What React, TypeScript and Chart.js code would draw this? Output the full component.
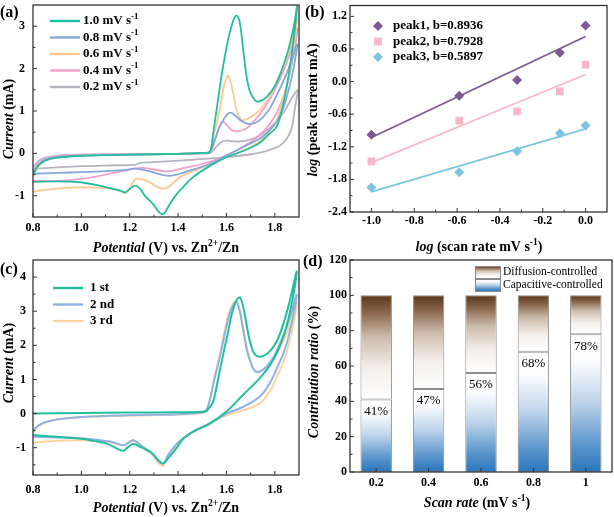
import { useEffect, useRef } from 'react';
import { Chart, registerables } from 'chart.js';
Chart.register(...registerables);

const SERIF = '"Liberation Serif", "Times New Roman", Times, serif';
Chart.defaults.font.family = SERIF;

// ---------------- Panel (a): CV at different scan rates ----------------
const A_LABELS = ['1.0', '0.8', '0.6', '0.4', '0.2'];
const A_10_E = [0.80, 0.82, 0.85, 0.90, 1.00, 1.20, 1.40, 1.50, 1.531, 1.545, 1.559, 1.573, 1.586, 1.607, 1.628, 1.642, 1.655, 1.669, 1.683, 1.697, 1.717, 1.731, 1.766, 1.807, 1.848, 1.876, 1.892,
  1.885, 1.87, 1.85, 1.83, 1.807, 1.77, 1.738, 1.68, 1.60, 1.53, 1.462, 1.42, 1.394, 1.365, 1.345, 1.335, 1.32, 1.30, 1.263, 1.24, 1.221, 1.20, 1.18, 1.16, 1.105, 1.05, 0.994, 0.90, 0.80];
const A_10_I = [-0.50, -0.30, -0.17, -0.10, -0.06, -0.03, -0.01, 0.01, 0.03, 0.47, 1.02, 1.58, 2.05, 2.69, 3.13, 3.25, 3.09, 2.45, 1.82, 1.46, 1.26, 1.22, 1.33, 1.66, 2.29, 2.93, 3.47,
  3.05, 2.35, 1.6, 1.05, 0.63, 0.42, 0.25, 0.08, -0.09, -0.3, -0.56, -0.8, -0.96, -1.2, -1.40, -1.44, -1.38, -1.22, -1.0, -0.82, -0.76, -0.84, -0.92, -0.88, -0.80, -0.73, -0.68, -0.66, -0.67];
const A_08_E = [0.80, 0.82, 0.85, 0.90, 1.00, 1.20, 1.40, 1.50, 1.531, 1.55, 1.57, 1.59, 1.605, 1.617, 1.635, 1.66, 1.697, 1.73, 1.77, 1.81, 1.85, 1.892,
  1.885, 1.87, 1.85, 1.83, 1.80, 1.75, 1.67, 1.60, 1.531, 1.45, 1.407, 1.366, 1.33, 1.28, 1.25, 1.22, 1.18, 1.10, 1.00, 0.90, 0.80];
const A_08_I = [-0.48, -0.28, -0.15, -0.08, -0.05, -0.03, -0.01, 0.01, 0.04, 0.3, 0.6, 0.82, 0.93, 0.96, 0.9, 0.77, 0.69, 0.75, 0.98, 1.4, 1.9, 2.57,
  2.25, 1.8, 1.35, 1.0, 0.68, 0.4, 0.15, -0.05, -0.25, -0.4, -0.48, -0.53, -0.5, -0.42, -0.38, -0.36, -0.39, -0.42, -0.44, -0.46, -0.48];
const A_06_E = [0.80, 0.82, 0.85, 0.90, 1.00, 1.20, 1.40, 1.50, 1.531, 1.545, 1.566, 1.579, 1.593, 1.607, 1.628, 1.642, 1.662, 1.68, 1.70, 1.738, 1.78, 1.82, 1.86, 1.892,
  1.885, 1.87, 1.85, 1.82, 1.80, 1.75, 1.70, 1.62, 1.55, 1.48, 1.407, 1.38, 1.345, 1.31, 1.283, 1.255, 1.226, 1.21, 1.187, 1.16, 1.10, 1.00, 0.90, 0.80];
const A_06_I = [-0.55, -0.33, -0.17, -0.09, -0.05, -0.03, -0.01, 0.01, 0.04, 0.4, 0.86, 1.26, 1.66, 1.83, 1.42, 1.02, 0.79, 0.8, 0.86, 1.02, 1.35, 1.85, 2.45, 3.17,
  2.85, 2.2, 1.6, 1.0, 0.7, 0.35, 0.15, -0.05, -0.2, -0.38, -0.56, -0.7, -0.83, -0.78, -0.68, -0.62, -0.6, -0.72, -0.93, -0.88, -0.82, -0.80, -0.83, -0.9];
const A_04_E = [0.80, 0.82, 0.85, 0.90, 1.00, 1.20, 1.40, 1.50, 1.535, 1.555, 1.57, 1.584, 1.60, 1.62, 1.644, 1.68, 1.72, 1.76, 1.80, 1.85, 1.892,
  1.885, 1.87, 1.85, 1.82, 1.78, 1.72, 1.65, 1.58, 1.50, 1.42, 1.37, 1.34, 1.30, 1.25, 1.20, 1.10, 1.00, 0.90, 0.80];
const A_04_I = [-0.45, -0.26, -0.13, -0.06, -0.03, -0.02, -0.01, 0.01, 0.05, 0.35, 0.62, 0.75, 0.68, 0.56, 0.52, 0.58, 0.8, 1.1, 1.5, 2.15, 2.95,
  2.55, 2.1, 1.6, 1.1, 0.7, 0.35, 0.1, -0.1, -0.25, -0.35, -0.42, -0.42, -0.38, -0.34, -0.38, -0.5, -0.6, -0.65, -0.64];
const A_02_E = [0.80, 0.83, 0.88, 1.00, 1.30, 1.53, 1.55, 1.575, 1.60, 1.64, 1.68, 1.74, 1.80, 1.84, 1.87, 1.895,
  1.89, 1.88, 1.87, 1.85, 1.82, 1.76, 1.70, 1.60, 1.46, 1.35, 1.25, 1.22, 1.15, 1.00, 0.90, 0.80];
const A_02_I = [-0.32, -0.15, -0.07, -0.03, -0.01, 0.0, 0.1, 0.25, 0.3, 0.28, 0.3, 0.43, 0.72, 1.0, 1.3, 1.5,
  1.3, 0.95, 0.6, 0.35, 0.18, 0.05, -0.02, -0.09, -0.15, -0.19, -0.22, -0.27, -0.28, -0.30, -0.33, -0.36];
const A_X_TICKS = [0.8, 1.0, 1.2, 1.4, 1.6, 1.8];
const A_Y_TICKS = [-1, 0, 1, 2, 3];

// ---------------- Panel (b): log(i) vs log(v) ----------------
const B_LOG_V = [-1.0, -0.59, -0.32, -0.12, 0.0];
const B_PEAK1 = [-0.98, -0.26, 0.03, 0.53, 1.03];
const B_PEAK2 = [-1.47, -0.72, -0.55, -0.18, 0.31];
const B_PEAK3 = [-1.95, -1.67, -1.28, -0.95, -0.81];
const B_FIT_X = [-1.0, 0.0];
const B_FIT1 = [-1.03, 0.83];
const B_FIT2 = [-1.49, 0.13];
const B_FIT3 = [-2.03, -0.87];
const B_LABELS = ['peak1, b=0.8936', 'peak2, b=0.7928', 'peak3, b=0.5897'];
const B_X_TICKS = [-1.0, -0.8, -0.6, -0.4, -0.2, 0.0];
const B_Y_TICKS = [-2.4, -1.8, -1.2, -0.6, 0.0, 0.6, 1.2];

// ---------------- Panel (c): first three cycles ----------------
const C_LABELS = ['1 st', '2 nd', '3 rd'];
const C_1_E = [0.80, 1.00, 1.20, 1.40, 1.50, 1.518, 1.53, 1.545, 1.566, 1.586, 1.607, 1.621, 1.64, 1.655, 1.665, 1.676, 1.697, 1.715, 1.731, 1.755, 1.779, 1.81, 1.834, 1.86, 1.89,
  1.88, 1.86, 1.84, 1.81, 1.78, 1.738, 1.669, 1.60, 1.531, 1.462, 1.42, 1.393, 1.36, 1.338, 1.32, 1.29, 1.25, 1.214, 1.19, 1.173, 1.14, 1.105, 1.05, 1.00, 0.90, 0.80];
const C_1_I = [0.0, 0.02, 0.03, 0.04, 0.05, 0.08, 0.18, 0.35, 1.03, 1.72, 2.4, 2.89, 3.3, 3.40, 3.25, 2.89, 2.11, 1.75, 1.67, 1.7, 1.82, 2.15, 2.6, 3.25, 4.16,
  3.6, 2.9, 2.35, 1.8, 1.42, 1.04, 0.55, 0.06, -0.29, -0.53, -0.75, -1.02, -1.3, -1.46, -1.38, -1.15, -1.0, -0.89, -1.0, -1.09, -1.0, -0.88, -0.8, -0.74, -0.68, -0.63];
const C_23_E = [0.80, 0.82, 0.85, 0.90, 1.00, 1.20, 1.40, 1.50, 1.515, 1.53, 1.55, 1.575, 1.595, 1.615, 1.639, 1.655, 1.668, 1.685, 1.70, 1.72, 1.75, 1.79, 1.83, 1.86, 1.89,
  1.88, 1.86, 1.84, 1.81, 1.78, 1.738, 1.67, 1.60, 1.53, 1.45, 1.40, 1.36, 1.338, 1.32, 1.29, 1.25, 1.214, 1.19, 1.173, 1.12, 1.00, 0.90, 0.80];
const C_2_I = [-0.52, -0.36, -0.25, -0.17, -0.1, -0.05, -0.02, 0.03, 0.08, 0.35, 1.0, 1.72, 2.4, 2.95, 3.28, 3.0, 2.5, 1.85, 1.5, 1.23, 1.28, 1.6, 2.2, 2.75, 3.48,
  3.0, 2.35, 1.85, 1.35, 0.9, 0.5, 0.2, 0.0, -0.3, -0.58, -0.85, -1.2, -1.47, -1.4, -1.15, -0.95, -0.78, -0.88, -0.93, -0.82, -0.72, -0.7, -0.68];
const C_3_I = [-0.55, -0.38, -0.27, -0.18, -0.11, -0.06, -0.03, 0.02, 0.08, 0.38, 1.05, 1.8, 2.5, 3.05, 3.3, 3.05, 2.55, 1.9, 1.52, 1.25, 1.27, 1.55, 2.05, 2.55, 3.23,
  2.75, 2.1, 1.6, 1.1, 0.65, 0.3, 0.1, -0.05, -0.3, -0.58, -0.87, -1.25, -1.53, -1.45, -1.18, -0.97, -0.78, -0.88, -0.93, -0.85, -0.78, -0.8, -0.85];
const C_X_TICKS = [0.8, 1.0, 1.2, 1.4, 1.6, 1.8];
const C_Y_TICKS = [-1, 0, 1, 2, 3, 4];

// ---------------- Panel (d): contribution ratio ----------------
const D_RATES = ['0.2', '0.4', '0.6', '0.8', '1'];
const D_CAPACITIVE = [41, 47, 56, 68, 78];
const D_DIFFUSION = [59, 53, 44, 32, 22];
const D_Y_TICKS = [0, 20, 40, 60, 80, 100, 120];

// ---------------- colours ----------------
const TEAL = '#22bf9f';
const BLUE = '#85a9dc';
const ORANGE = '#fcc98f';
const PINK = '#f2a0cc';
const GRAY = '#b9b3c0';
const C_BLUE = '#90b2e2';
const C_ORANGE = '#fdd3a2';
const P1 = '#7b5b93';
const P2 = '#f8b8c8';
const P3 = '#7cc4e0';
const CAP_STOPS: [number, string][] = [[0, '#2a76bb'], [0.2, '#5d96cd'], [0.5, '#bcd3ea'], [0.8, '#fbfcfe'], [1, '#ffffff']];
const DIF_STOPS: [number, string][] = [[0, '#ffffff'], [0.3, '#f3efeb'], [0.6, '#cdbcac'], [0.85, '#866248'], [1, '#5a3719']];

// ---------------- helpers ----------------
type Part = { t: string; i?: boolean; sup?: boolean; n?: boolean };
const xy = (xs: number[], ys: number[]) => xs.map((x, k) => ({ x, y: ys[k] }));
const fontOf = (p: Part, size: number) =>
  `${p.i ? 'italic ' : ''}${p.n ? '' : 'bold '}${p.sup ? size * 0.68 : size}px ${SERIF}`;

function drawRich(ctx: CanvasRenderingContext2D, parts: Part[], x: number, y: number, size: number, align: 'left' | 'center' = 'left', rot = false) {
  ctx.save();
  ctx.translate(x, y);
  if (rot) ctx.rotate(-Math.PI / 2);
  let w = 0;
  for (const p of parts) { ctx.font = fontOf(p, size); w += ctx.measureText(p.t).width; }
  let cx = align === 'center' ? -w / 2 : 0;
  ctx.textBaseline = 'middle';
  ctx.textAlign = 'left';
  ctx.fillStyle = '#000';
  for (const p of parts) {
    ctx.font = fontOf(p, size);
    ctx.fillText(p.t, cx, p.sup ? -size * 0.33 : 0);
    cx += ctx.measureText(p.t).width;
  }
  ctx.restore();
}

const f1 = (v: any) => Number(v).toFixed(1);
const f0 = (v: any) => String(Math.round(Number(v)));

function linScale(min: number, max: number, ticks: number[], fmt: any, padding: number, axis: 'x' | 'y', fixed: number) {
  return {
    type: 'linear', min, max,
    grid: { display: false, drawTicks: false },
    border: { display: false },
    ticks: { padding, color: '#000', font: { family: SERIF, size: 12, weight: 'bold' }, callback: fmt },
    afterBuildTicks: (s: any) => { s.ticks = ticks.map((v) => ({ value: v })); },
    afterFit: (s: any) => {
      if (axis === 'x') s.height = fixed; else s.width = fixed;
      s.paddingLeft = 0; s.paddingRight = 0; s.paddingTop = 0; s.paddingBottom = 0;
    },
  };
}

function framePlugin(xMinor: boolean, yMinor: boolean) {
  return {
    id: 'frame',
    afterDraw(chart: any) {
      const { ctx, chartArea: a, scales } = chart;
      ctx.save();
      ctx.strokeStyle = '#333';
      ctx.lineWidth = 1;
      ctx.beginPath();
      const xs = scales.x, ys = scales.y;
      const xt: number[] = xs.ticks.map((_: any, k: number) => xs.getPixelForTick(k));
      const yt: number[] = ys.ticks.map((_: any, k: number) => ys.getPixelForTick(k));
      xt.forEach((p) => { ctx.moveTo(p, a.bottom); ctx.lineTo(p, a.bottom - 4); });
      yt.forEach((p) => { ctx.moveTo(a.left, p); ctx.lineTo(a.left + 4, p); });
      if (xMinor && xt.length > 1) {
        const st = xt[1] - xt[0];
        for (let k = -2; k < xt.length + 2; k++) {
          const p = xt[0] + st / 2 + k * st;
          if (p > a.left + 1 && p < a.right - 1) { ctx.moveTo(p, a.bottom); ctx.lineTo(p, a.bottom - 2.5); }
        }
      }
      if (yMinor && yt.length > 1) {
        const st = yt[1] - yt[0];
        for (let k = -2; k < yt.length + 2; k++) {
          const p = yt[0] + st / 2 + k * st;
          if (p > a.top + 1 && p < a.bottom - 1) { ctx.moveTo(a.left, p); ctx.lineTo(a.left + 2.5, p); }
        }
      }
      ctx.stroke();
      ctx.lineWidth = 1.3;
      ctx.strokeRect(a.left, a.top, a.right - a.left, a.bottom - a.top);
      ctx.restore();
    },
  };
}

const textPlugin = (draw: (ctx: CanvasRenderingContext2D, chart: any) => void) => ({
  id: 'texts',
  afterDraw(chart: any) { const ctx = chart.ctx; ctx.save(); draw(ctx, chart); ctx.restore(); },
});

const baseOptions = (padTop: number, padRight: number) => ({
  responsive: false,
  animation: false,
  devicePixelRatio: 1,
  layout: { padding: { top: padTop, right: padRight, left: 0, bottom: 0 } },
  plugins: { legend: { display: false }, tooltip: { enabled: false } },
});

const cvLine = (E: number[], I: number[], color: string, width: number) => ({
  data: xy(E, I), showLine: true, borderColor: color, backgroundColor: color,
  borderWidth: width, pointRadius: 0, tension: 0.35, fill: false,
});

// ---------------- chart configs ----------------
function configA(): any {
  const colors = [TEAL, BLUE, ORANGE, PINK, GRAY];
  const series = [[A_10_E, A_10_I], [A_08_E, A_08_I], [A_06_E, A_06_I], [A_04_E, A_04_I], [A_02_E, A_02_I]];
  return {
    type: 'scatter',
    data: { datasets: series.map((s, k) => cvLine(s[0], s[1], colors[k], 1.8)) },
    options: {
      ...baseOptions(5, 1),
      scales: {
        x: linScale(0.8, 1.9, A_X_TICKS, f1, 4, 'x', 255 - 217),
        y: linScale(-1.5, 3.5, A_Y_TICKS, f0, 8, 'y', 33),
      },
    },
    plugins: [framePlugin(true, true), textPlugin((ctx) => {
      drawRich(ctx, [{ t: '(a)' }], 0, 13, 16);
      drawRich(ctx, [{ t: 'Current', i: true }, { t: ' (mA)' }], 9, 119, 14, 'center', true);
      drawRich(ctx, [{ t: 'Potential', i: true }, { t: ' (V) vs. Zn' }, { t: '2+', sup: true }, { t: '/Zn' }], 166, 248, 14, 'center');
      A_LABELS.forEach((lab, k) => {
        const y = 21 + k * 16.5;
        ctx.strokeStyle = colors[k]; ctx.lineWidth = 2.4;
        ctx.beginPath(); ctx.moveTo(50, y); ctx.lineTo(80, y); ctx.stroke();
        drawRich(ctx, [{ t: `${lab} mV s` }, { t: '-1', sup: true }], 83, y, 13);
      });
    })],
  };
}

function configB(): any {
  const pts = [B_PEAK1, B_PEAK2, B_PEAK3];
  const fits = [B_FIT1, B_FIT2, B_FIT3];
  const colors = [P1, P2, P3];
  const styles = ['rectRot', 'rect', 'rectRot'];
  const radii = [5, 5.5, 5];
  const datasets: any[] = [];
  fits.forEach((f, k) => datasets.push({ data: xy(B_FIT_X, f), showLine: true, borderColor: colors[k], borderWidth: 1.8, pointRadius: 0, tension: 0 }));
  pts.forEach((p, k) => datasets.push({ data: xy(B_LOG_V, p), showLine: false, pointStyle: styles[k], pointRadius: radii[k], backgroundColor: colors[k], borderColor: colors[k], borderWidth: 0 }));
  return {
    type: 'scatter',
    data: { datasets },
    options: {
      ...baseOptions(5, 7),
      scales: {
        x: linScale(-1.1, 0.1, B_X_TICKS, f1, 2, 'x', 255 - 212),
        y: linScale(-2.4, 1.4, B_Y_TICKS, f1, 3, 'y', 50),
      },
    },
    plugins: [framePlugin(true, true), textPlugin((ctx) => {
      drawRich(ctx, [{ t: '(b)' }], 5, 13, 16);
      drawRich(ctx, [{ t: 'log', i: true }, { t: ' (peak current mA)' }], 13, 110, 14, 'center', true);
      drawRich(ctx, [{ t: 'log', i: true }, { t: ' (scan rate mV s' }, { t: '-1', sup: true }, { t: ')' }], 179, 247, 14, 'center');
      B_LABELS.forEach((lab, k) => {
        const y = 26 + k * 15.5, x = 78;
        ctx.fillStyle = colors[k];
        ctx.beginPath();
        if (styles[k] === 'rect') { ctx.rect(x - 4, y - 4, 8, 8); }
        else { ctx.moveTo(x, y - 5); ctx.lineTo(x + 5, y); ctx.lineTo(x, y + 5); ctx.lineTo(x - 5, y); ctx.closePath(); }
        ctx.fill();
        drawRich(ctx, [{ t: lab }], 93, y, 13);
      });
    })],
  };
}

function configC(): any {
  const colors = [TEAL, C_BLUE, C_ORANGE];
  const series = [[C_1_E, C_1_I], [C_23_E, C_2_I], [C_23_E, C_3_I]];
  return {
    type: 'scatter',
    data: { datasets: series.map((s, k) => cvLine(s[0], s[1], colors[k], 2)) },
    options: {
      ...baseOptions(5, 1),
      scales: {
        x: linScale(0.8, 1.9, C_X_TICKS, f1, 8, 'x', 262 - 220),
        y: linScale(-1.8, 4.5, C_Y_TICKS, f0, 7, 'y', 33),
      },
    },
    plugins: [framePlugin(true, true), textPlugin((ctx) => {
      drawRich(ctx, [{ t: '(c)' }], 0, 15, 16);
      drawRich(ctx, [{ t: 'Current', i: true }, { t: ' (mA)' }], 9, 108, 14, 'center', true);
      drawRich(ctx, [{ t: 'Potential', i: true }, { t: ' (V) vs. Zn' }, { t: '2+', sup: true }, { t: '/Zn' }], 166, 253, 14, 'center');
      C_LABELS.forEach((lab, k) => {
        const y = 33 + k * 16.5;
        ctx.strokeStyle = colors[k]; ctx.lineWidth = 2.4;
        ctx.beginPath(); ctx.moveTo(53, y); ctx.lineTo(83, y); ctx.stroke();
        drawRich(ctx, [{ t: lab }], 90, y, 13);
      });
    })],
  };
}

function makeGradient(ctx: CanvasRenderingContext2D, y0: number, y1: number, stops: [number, string][]) {
  const g = ctx.createLinearGradient(0, y0, 0, y1);
  stops.forEach(([o, c]) => g.addColorStop(o, c));
  return g;
}

function segFill(upper: boolean) {
  return (c: any) => {
    const chart = c.chart;
    const ys = chart.scales && chart.scales.y;
    const stops = upper ? DIF_STOPS : CAP_STOPS;
    if (!ys || c.type !== 'data') return stops[0][1];
    const i = c.dataIndex;
    const lo = upper ? D_CAPACITIVE[i] : 0;
    const hi = upper ? D_CAPACITIVE[i] + D_DIFFUSION[i] : D_CAPACITIVE[i];
    const y0 = ys.getPixelForValue(lo), y1 = ys.getPixelForValue(hi);
    if (!isFinite(y0) || !isFinite(y1) || y0 === y1) return stops[0][1];
    return makeGradient(chart.ctx, y0, y1, stops);
  };
}

function configD(): any {
  const catFont = { family: SERIF, size: 12, weight: 'bold' };
  return {
    type: 'bar',
    data: {
      labels: D_RATES,
      datasets: [
        { data: D_CAPACITIVE, backgroundColor: segFill(false), borderColor: '#8c8c8c', borderWidth: 1, borderSkipped: false, categoryPercentage: 1, barPercentage: 0.6 },
        { data: D_DIFFUSION, backgroundColor: segFill(true), borderColor: '#8c8c8c', borderWidth: 1, borderSkipped: false, categoryPercentage: 1, barPercentage: 0.6 },
      ],
    },
    options: {
      ...baseOptions(5, 2),
      scales: {
        x: {
          type: 'category', stacked: true,
          grid: { display: false, drawTicks: false }, border: { display: false },
          ticks: { padding: 3.5, color: '#000', font: catFont },
          afterFit: (s: any) => { s.height = 262 - 217; s.paddingLeft = 0; s.paddingRight = 0; s.paddingTop = 0; s.paddingBottom = 0; },
        },
        y: { ...linScale(0, 120, D_Y_TICKS, f0, 3, 'y', 50), stacked: true },
      },
    },
    plugins: [framePlugin(false, true), textPlugin((ctx, chart) => {
      drawRich(ctx, [{ t: '(d)' }], 3, 7, 16);
      drawRich(ctx, [{ t: 'Contribution ratio', i: true }, { t: ' (%)' }], 14, 117, 14, 'center', true);
      drawRich(ctx, [{ t: 'Scan rate', i: true }, { t: ' (mV s' }, { t: '-1', sup: true }, { t: ')' }], 177, 248, 14, 'center');
      const xs = chart.scales.x, ys = chart.scales.y;
      D_CAPACITIVE.forEach((v, k) => {
        const x = xs.getPixelForTick(k), y = ys.getPixelForValue(v);
        drawRich(ctx, [{ t: `${v}%`, n: true }], x, y + 12, 13, 'center');
      });
      // legend
      ctx.fillStyle = makeGradient(ctx, 23, 11, DIF_STOPS);
      ctx.fillRect(175, 11, 25, 12);
      ctx.fillStyle = makeGradient(ctx, 36, 24, CAP_STOPS);
      ctx.fillRect(175, 24, 25, 12);
      ctx.strokeStyle = '#8c8c8c'; ctx.lineWidth = 1;
      ctx.strokeRect(175.5, 11.5, 25, 12);
      ctx.strokeRect(175.5, 24.5, 25, 12);
      drawRich(ctx, [{ t: 'Diffusion-controlled', n: true }], 203, 17, 11.5);
      drawRich(ctx, [{ t: 'Capacitive-controlled', n: true }], 203, 30, 11.5);
    })],
  };
}

function Panel({ left, top, width, height, make }: { left: number; top: number; width: number; height: number; make: () => any }) {
  const ref = useRef<HTMLCanvasElement>(null);
  useEffect(() => {
    const chart = new Chart(ref.current as HTMLCanvasElement, make());
    return () => chart.destroy();
  }, []);
  return <canvas ref={ref} width={width} height={height} style={{ position: 'absolute', left, top, width, height }} />;
}

export default function App() {
  return (
    <div style={{ position: 'fixed', left: 0, top: 0, width: 614, height: 517, background: '#fff', overflow: 'hidden' }}>
      <Panel left={0} top={0} width={300} height={255} make={configA} />
      <Panel left={300} top={0} width={314} height={255} make={configB} />
      <Panel left={0} top={255} width={300} height={262} make={configC} />
      <Panel left={300} top={255} width={314} height={262} make={configD} />
    </div>
  );
}
